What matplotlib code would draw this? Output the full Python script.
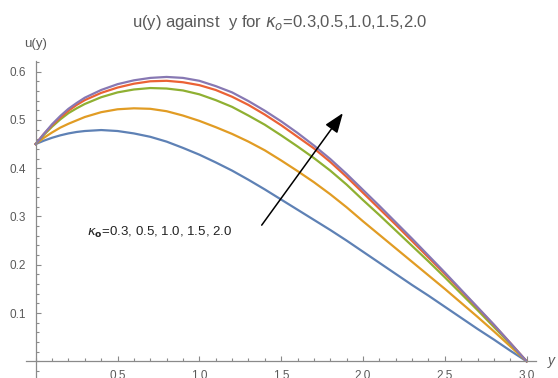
"""
u(y) against y for several kappa_o values (Mathematica-style axes).
"""
import matplotlib
matplotlib.use('Agg')
import matplotlib.pyplot as plt
from matplotlib.ticker import MultipleLocator, FixedLocator

plt.rcParams['font.family'] = ['Liberation Sans', 'DejaVu Sans']

# values
y_pts = [0.0, 0.05, 0.1, 0.15, 0.2, 0.25, 0.3, 0.4, 0.5, 0.6, 0.7, 0.8, 0.9,
         1.0, 1.1, 1.2, 1.3, 1.4, 1.5, 1.6, 1.7, 1.8, 1.9,
         2.0, 2.1, 2.2, 2.3, 2.4, 2.5, 2.6, 2.7, 2.8, 2.9, 3.0]

u_k03 = [0.450, 0.457, 0.463, 0.468, 0.472, 0.475, 0.477, 0.479, 0.477, 0.472, 0.465, 0.455, 0.442,
         0.428, 0.412, 0.395, 0.376, 0.356, 0.335, 0.314, 0.293, 0.272, 0.250,
         0.227, 0.204, 0.181, 0.158, 0.136, 0.113, 0.090, 0.067, 0.045, 0.022, 0.0]
u_k05 = [0.450, 0.463, 0.474, 0.484, 0.492, 0.499, 0.506, 0.516, 0.522, 0.524, 0.523, 0.518, 0.509,
         0.498, 0.485, 0.471, 0.455, 0.437, 0.416, 0.394, 0.371, 0.346, 0.319,
         0.290, 0.262, 0.234, 0.206, 0.178, 0.150, 0.121, 0.092, 0.062, 0.031, 0.0]
u_k10 = [0.450, 0.469, 0.486, 0.501, 0.514, 0.524, 0.533, 0.547, 0.557, 0.563, 0.566, 0.565, 0.561,
         0.553, 0.541, 0.527, 0.509, 0.490, 0.468, 0.445, 0.421, 0.395, 0.366,
         0.334, 0.303, 0.271, 0.239, 0.207, 0.174, 0.140, 0.106, 0.071, 0.036, 0.0]
u_k15 = [0.450, 0.471, 0.489, 0.505, 0.519, 0.531, 0.541, 0.556, 0.567, 0.575, 0.580, 0.581, 0.578,
         0.572, 0.562, 0.548, 0.531, 0.511, 0.489, 0.465, 0.441, 0.413, 0.382,
         0.349, 0.316, 0.283, 0.249, 0.215, 0.181, 0.146, 0.111, 0.075, 0.038, 0.0]
u_k20 = [0.450, 0.471, 0.491, 0.508, 0.523, 0.535, 0.546, 0.562, 0.574, 0.582, 0.587, 0.589, 0.587,
         0.581, 0.570, 0.557, 0.539, 0.519, 0.497, 0.473, 0.447, 0.419, 0.388,
         0.355, 0.322, 0.288, 0.254, 0.219, 0.184, 0.148, 0.112, 0.076, 0.038, 0.0]

series = [u_k03, u_k05, u_k10, u_k15, u_k20]
colors = ['#5E81B5', '#E19C24', '#8FB032', '#EB6235', '#8778B3']

x_major = [0.5, 1.0, 1.5, 2.0, 2.5, 3.0]
y_major = [0.1, 0.2, 0.3, 0.4, 0.5, 0.6]

axis_gray = '#8a8a8a'
text_gray = '#5a5a5a'

fig = plt.figure(figsize=(5.58, 3.78), dpi=100)
ax = fig.add_axes([0.0464, -0.0069, 0.915, 0.8455])

for u, c in zip(series, colors):
    ax.plot(y_pts, u, color=c, linewidth=1.6, solid_joinstyle='round')

ax.set_xlim(-0.06, 3.06)
ax.set_ylim(-0.04, 0.622)

for side in ['top', 'right']:
    ax.spines[side].set_visible(False)
ax.spines['left'].set_position(('data', 0))
ax.spines['bottom'].set_position(('data', 0))
for side in ['left', 'bottom']:
    ax.spines[side].set_color(axis_gray)
    ax.spines[side].set_linewidth(0.9)

ax.xaxis.set_major_locator(FixedLocator(x_major))
ax.xaxis.set_minor_locator(MultipleLocator(0.1))
ax.yaxis.set_major_locator(FixedLocator(y_major))
ax.yaxis.set_minor_locator(MultipleLocator(0.02))
ax.set_xticklabels([f'{v:.1f}' for v in x_major])
ax.set_yticklabels([f'{v:.1f}' for v in y_major])

ax.tick_params(which='both', direction='in', color=axis_gray, width=0.8,
               labelcolor=text_gray, labelsize=8.5)
ax.tick_params(which='major', length=3.6)
ax.tick_params(which='minor', length=2.2)
ax.tick_params(axis='x', pad=6)
ax.tick_params(axis='y', pad=7)

# axis labels, Mathematica style
ax.annotate('y', xy=(1, 0), xycoords=('axes fraction', 'data'),
            xytext=(8, 0), textcoords='offset points', ha='left', va='center',
            fontsize=10, style='italic', color=text_gray)
ax.annotate('u(y)', xy=(0, 1), xycoords=('data', 'axes fraction'),
            xytext=(0, 8), textcoords='offset points', ha='center', va='bottom',
            fontsize=9.5, color=text_gray)

fig.text(0.502, 1 - 22 / 378, r'u(y) against  y for $\kappa_o$=0.3,0.5,1.0,1.5,2.0',
         ha='center', va='center', fontsize=12, color=text_gray)

# arrow and annotation inside the plot
ax.annotate('', xy=(1.877, 0.514), xytext=(1.381, 0.282),
            arrowprops=dict(arrowstyle='-|>,head_length=0.8,head_width=0.3',
                            color='black', lw=1.1, mutation_scale=15,
                            shrinkA=0, shrinkB=0))
ax.text(0.312, 0.266, r'$\kappa_{\mathbf{o}}$=0.3, 0.5, 1.0, 1.5, 2.0',
        ha='left', va='center', fontsize=9.5, color='#222222')

fig.savefig('out.png', dpi=100)
